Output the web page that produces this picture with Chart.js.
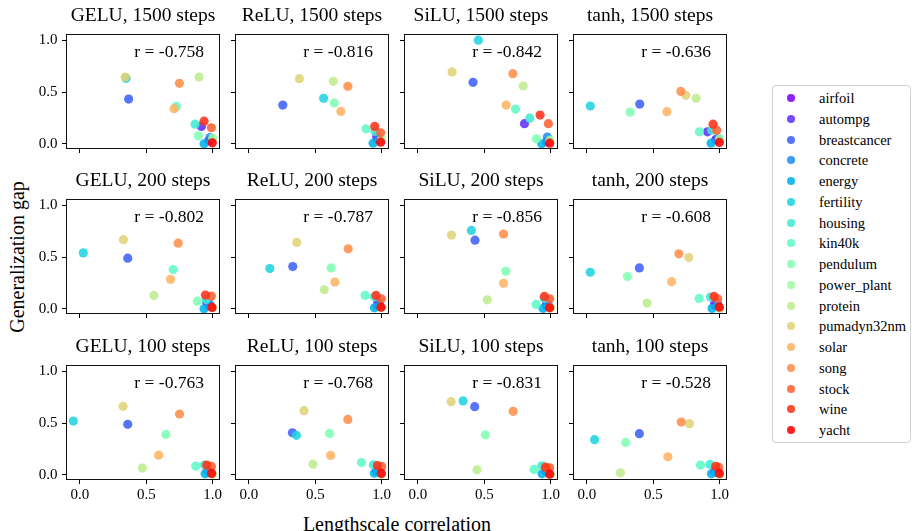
<!DOCTYPE html>
<html>
<head>
<meta charset="utf-8">
<script src="https://cdn.jsdelivr.net/npm/chart.js@4.4.1/dist/chart.umd.min.js"></script>
<style>
  body { margin: 0; width: 912px; height: 531px; background: #fff; position: relative; overflow: hidden; font-family: "Liberation Serif", serif; }
  canvas.panel { position: absolute; }
  .axis-label { position: absolute; font-size: 20px; line-height: 20px; color: #000; white-space: nowrap; }
  #ylabel { left: 17px; top: 257px; transform: translate(-50%, -50%) rotate(-90deg); }
  #xlabel { left: 397px; top: 514px; transform: translateX(-50%); }
  #legend { position: absolute; left: 772px; top: 85px; width: 139px; height: 358px; border: 1px solid #d0d0d0; border-radius: 4px; box-sizing: border-box; background: #fff; }
  .item { position: absolute; left: 0; height: 20px; line-height: 20px; font-size: 14.5px; color: #000; white-space: nowrap; }
  .item .dot { position: absolute; left: 14px; top: 6px; width: 8px; height: 8px; border-radius: 50%; }
  .item .name { position: absolute; left: 46px; }
</style>
</head>
<body>
<div class="axis-label" id="ylabel">Generalization gap</div>
<div class="axis-label" id="xlabel">Lengthscale correlation</div>
<div id="legend"></div>
<script>
// Datasets (one scatter series per dataset, coloured along the rainbow map)
const DATASETS = ['airfoil', 'autompg', 'breastcancer', 'concrete', 'energy', 'fertility', 'housing',
    'kin40k', 'pendulum', 'power_plant', 'protein', 'pumadyn32nm', 'solar', 'song', 'stock', 'wine', 'yacht'];

const ACTIVATIONS = ['GELU', 'ReLU', 'SiLU', 'tanh'];
const STEPS = [1500, 200, 100];

// [lengthscale correlation, generalization gap] per dataset, in DATASETS order
const GELU_1500 = [[0.97,0.03],[0.915,0.168],[0.367,0.432],[0.98,0.06],[0.935,0.0],[0.347,0.632],[0.867,0.19],[0.726,0.361],[0.892,0.077],[1.0,0.055],[0.897,0.645],[0.34,0.645],[0.709,0.339],[0.749,0.584],[0.99,0.155],[0.935,0.219],[0.997,0.01]];
const RELU_1500 = [[0.97,0.04],[0.9625,0.071],[0.255,0.374],[0.98,0.05],[0.935,0.006],[0.5625,0.439],[0.95,0.12],[0.8825,0.145],[0.6425,0.394],[1.0,0.045],[0.635,0.603],[0.38,0.629],[0.6925,0.313],[0.745,0.555],[0.9925,0.106],[0.9475,0.168],[0.9925,0.016]];
const SILU_1500 = [[0.97,0.02],[0.8025,0.194],[0.415,0.594],[0.975,0.065],[0.9325,0.0],[0.455,1.0],[0.8425,0.248],[0.735,0.335],[0.8925,0.048],[0.995,0.035],[0.7925,0.558],[0.2575,0.694],[0.665,0.374],[0.715,0.677],[0.9825,0.194],[0.92,0.277],[0.9925,0.006]];
const TANH_1500 = [[0.97,0.04],[0.9075,0.116],[0.3975,0.384],[0.99,0.055],[0.935,0.006],[0.025,0.365],[0.94,0.13],[0.8475,0.116],[0.325,0.306],[1.0,0.05],[0.8225,0.439],[0.745,0.468],[0.6025,0.31],[0.7075,0.506],[0.9775,0.132],[0.95,0.19],[0.9975,0.013]];
const GELU_200 = [[0.97,0.03],[0.955,0.058],[0.36,0.489],[0.98,0.04],[0.935,0.0],[0.025,0.54],[0.95,0.09],[0.7025,0.379],[0.885,0.074],[1.0,0.01],[0.5575,0.129],[0.3275,0.667],[0.6825,0.285],[0.74,0.634],[0.99,0.123],[0.945,0.133],[0.995,0.013]];
const RELU_200 = [[0.97,0.03],[0.97,0.065],[0.33,0.408],[0.985,0.04],[0.945,0.01],[0.1575,0.388],[0.945,0.116],[0.875,0.129],[0.62,0.395],[1.0,0.01],[0.5675,0.184],[0.36,0.641],[0.6475,0.259],[0.7475,0.579],[0.9975,0.097],[0.9575,0.129],[0.995,0.016]];
const SILU_200 = [[0.97,0.03],[0.9675,0.042],[0.43,0.663],[0.98,0.05],[0.9425,0.003],[0.4025,0.757],[0.95,0.1],[0.89,0.042],[0.6625,0.362],[1.0,0.01],[0.5225,0.087],[0.2525,0.712],[0.645,0.246],[0.645,0.722],[0.9925,0.097],[0.9525,0.12],[0.9925,0.01]];
const TANH_200 = [[0.97,0.03],[0.96,0.042],[0.395,0.395],[0.985,0.05],[0.9425,0.003],[0.025,0.353],[0.93,0.113],[0.845,0.1],[0.305,0.311],[1.0,0.003],[0.4525,0.055],[0.7675,0.495],[0.6375,0.262],[0.6925,0.531],[0.985,0.097],[0.9575,0.12],[0.9975,0.016]];
const GELU_100 = [[0.97,0.03],[0.96,0.04],[0.36,0.487],[0.97,0.02],[0.9425,0.01],[-0.05,0.519],[0.9375,0.094],[0.8725,0.084],[0.6475,0.39],[1.0,0.005],[0.47,0.065],[0.325,0.661],[0.5925,0.19],[0.75,0.587],[0.99,0.081],[0.955,0.094],[0.9925,0.013]];
const RELU_100 = [[0.97,0.03],[0.96,0.04],[0.3275,0.406],[0.975,0.03],[0.945,0.016],[0.3575,0.381],[0.9375,0.097],[0.8475,0.119],[0.6075,0.4],[1.0,0.005],[0.4825,0.103],[0.415,0.619],[0.615,0.187],[0.745,0.535],[1.0,0.081],[0.9675,0.09],[0.9975,0.013]];
const SILU_100 = [[0.97,0.03],[0.96,0.04],[0.4275,0.658],[0.975,0.03],[0.935,0.01],[0.34,0.713],[0.9325,0.087],[0.875,0.052],[0.5075,0.387],[1.0,0.005],[0.445,0.048],[0.25,0.706],[0.975,0.07],[0.7175,0.613],[0.9925,0.068],[0.96,0.074],[0.9925,0.006]];
const TANH_100 = [[0.97,0.03],[0.96,0.03],[0.395,0.397],[0.975,0.02],[0.9375,0.01],[0.0575,0.339],[0.9275,0.1],[0.855,0.094],[0.2925,0.313],[1.0,0.005],[0.2525,0.019],[0.7725,0.494],[0.61,0.174],[0.71,0.51],[0.9925,0.074],[0.97,0.081],[0.9975,0.013]];

// Pearson r shown in each panel, row by row
const R_VALUES = ['-0.758', '-0.816', '-0.842', '-0.636', '-0.802', '-0.787', '-0.856', '-0.608', '-0.763', '-0.768', '-0.831', '-0.528'];

const X_TICKS = [0.0, 0.5, 1.0];
const Y_TICKS = [0.0, 0.5, 1.0];

const PANEL_DATA = [
    GELU_1500, RELU_1500, SILU_1500, TANH_1500,
    GELU_200, RELU_200, SILU_200, TANH_200,
    GELU_100, RELU_100, SILU_100, TANH_100
];

// layout of the 3x4 grid (pixels)
const BOX_LEFT = [66, 235, 404, 573];
const BOX_TOP = [34, 199, 365];
const BOX_W = 154, BOX_H = 115;
const TOP_SPACE = 34;
const FONT = '"Liberation Serif", "Times New Roman", serif';

// matplotlib 'rainbow' colormap
function rainbow(t, alpha) {
    const r = Math.min(1, Math.abs(2 * t - 0.5));
    const g = Math.sin(Math.PI * t);
    const b = Math.cos(Math.PI * t / 2);
    return `rgba(${Math.round(r * 255)}, ${Math.round(g * 255)}, ${Math.round(b * 255)}, ${alpha})`;
}

const panelDecor = {
    id: 'panelDecor',
    afterDraw(chart, args, opts) {
        const { ctx, chartArea: a } = chart;
        ctx.save();
        ctx.strokeStyle = '#111';
        ctx.lineWidth = 1;
        ctx.strokeRect(a.left + 0.5, a.top + 0.5, a.right - a.left - 1, a.bottom - a.top - 1);
        ctx.fillStyle = '#000';
        ctx.textBaseline = 'alphabetic';
        ctx.font = `19.5px ${FONT}`;
        ctx.textAlign = 'center';
        ctx.fillText(opts.title, (a.left + a.right) / 2, a.top - 13);
        ctx.font = `17.5px ${FONT}`;
        ctx.textAlign = 'right';
        ctx.fillText('r = ' + opts.r, a.right - 16, a.top + 23);
        ctx.restore();
    }
};

function makePanel(k) {
    const col = k % 4, row = Math.floor(k / 4);
    const yw = col === 0 ? 45 : 6;
    const xh = row === 2 ? 28 : 8;
    const padRight = 8;
    const w = yw + BOX_W + padRight;
    const h = TOP_SPACE + BOX_H + xh;

    const canvas = document.createElement('canvas');
    canvas.className = 'panel';
    canvas.width = w;
    canvas.height = h;
    canvas.style.left = (BOX_LEFT[col] - yw) + 'px';
    canvas.style.top = (BOX_TOP[row] - TOP_SPACE) + 'px';
    canvas.style.width = w + 'px';
    canvas.style.height = h + 'px';
    document.body.appendChild(canvas);

    const datasets = DATASETS.map((name, i) => ({
        label: name,
        data: [{ x: PANEL_DATA[k][i][0], y: PANEL_DATA[k][i][1] }],
        backgroundColor: rainbow(i / (DATASETS.length - 1), 0.88),
        pointRadius: 4.6,
        pointHoverRadius: 4.6,
        pointBorderWidth: 0,
        order: DATASETS.length - 1 - i,
        clip: false
    }));

    const tickStyle = { font: { family: FONT, size: 15 }, color: '#000', maxRotation: 0 };
    const gridStyle = { drawOnChartArea: false, drawTicks: true, tickLength: 4, color: '#000', tickColor: '#000', lineWidth: 1 };

    new Chart(canvas, {
        type: 'scatter',
        data: { datasets },
        options: {
            responsive: false,
            animation: false,
            devicePixelRatio: 1,
            layout: { padding: { top: TOP_SPACE, right: padRight, left: 0, bottom: 0 } },
            plugins: {
                legend: { display: false },
                tooltip: { enabled: false },
                panelDecor: { title: `${ACTIVATIONS[col]}, ${STEPS[row]} steps`, r: R_VALUES[k] }
            },
            scales: {
                x: {
                    type: 'linear', min: -0.105, max: 1.055,
                    afterBuildTicks: s => { s.ticks = X_TICKS.map(v => ({ value: v })); },
                    afterFit: s => { s.height = xh; s.paddingLeft = 0; s.paddingRight = 0; },
                    grid: gridStyle,
                    border: { display: false },
                    ticks: { ...tickStyle, padding: 2, callback: v => row === 2 ? v.toFixed(1) : '' }
                },
                y: {
                    type: 'linear', min: -0.05, max: 1.06,
                    afterBuildTicks: s => { s.ticks = Y_TICKS.map(v => ({ value: v })); },
                    afterFit: s => { s.width = yw; s.paddingTop = 0; s.paddingBottom = 0; },
                    grid: gridStyle,
                    border: { display: false },
                    ticks: { ...tickStyle, padding: 4.5, callback: v => col === 0 ? v.toFixed(1) : '' }
                }
            }
        },
        plugins: [panelDecor]
    });
}

function buildLegend() {
    const box = document.getElementById('legend');
    DATASETS.forEach((name, i) => {
        const item = document.createElement('div');
        item.className = 'item';
        item.style.top = (2 + i * 20.75) + 'px';
        const dot = document.createElement('span');
        dot.className = 'dot';
        dot.style.background = rainbow(i / (DATASETS.length - 1), 0.88);
        const label = document.createElement('span');
        label.className = 'name';
        label.textContent = name;
        item.appendChild(dot);
        item.appendChild(label);
        box.appendChild(item);
    });
}

PANEL_DATA.forEach((_, k) => makePanel(k));
buildLegend();
</script>
</body>
</html>
